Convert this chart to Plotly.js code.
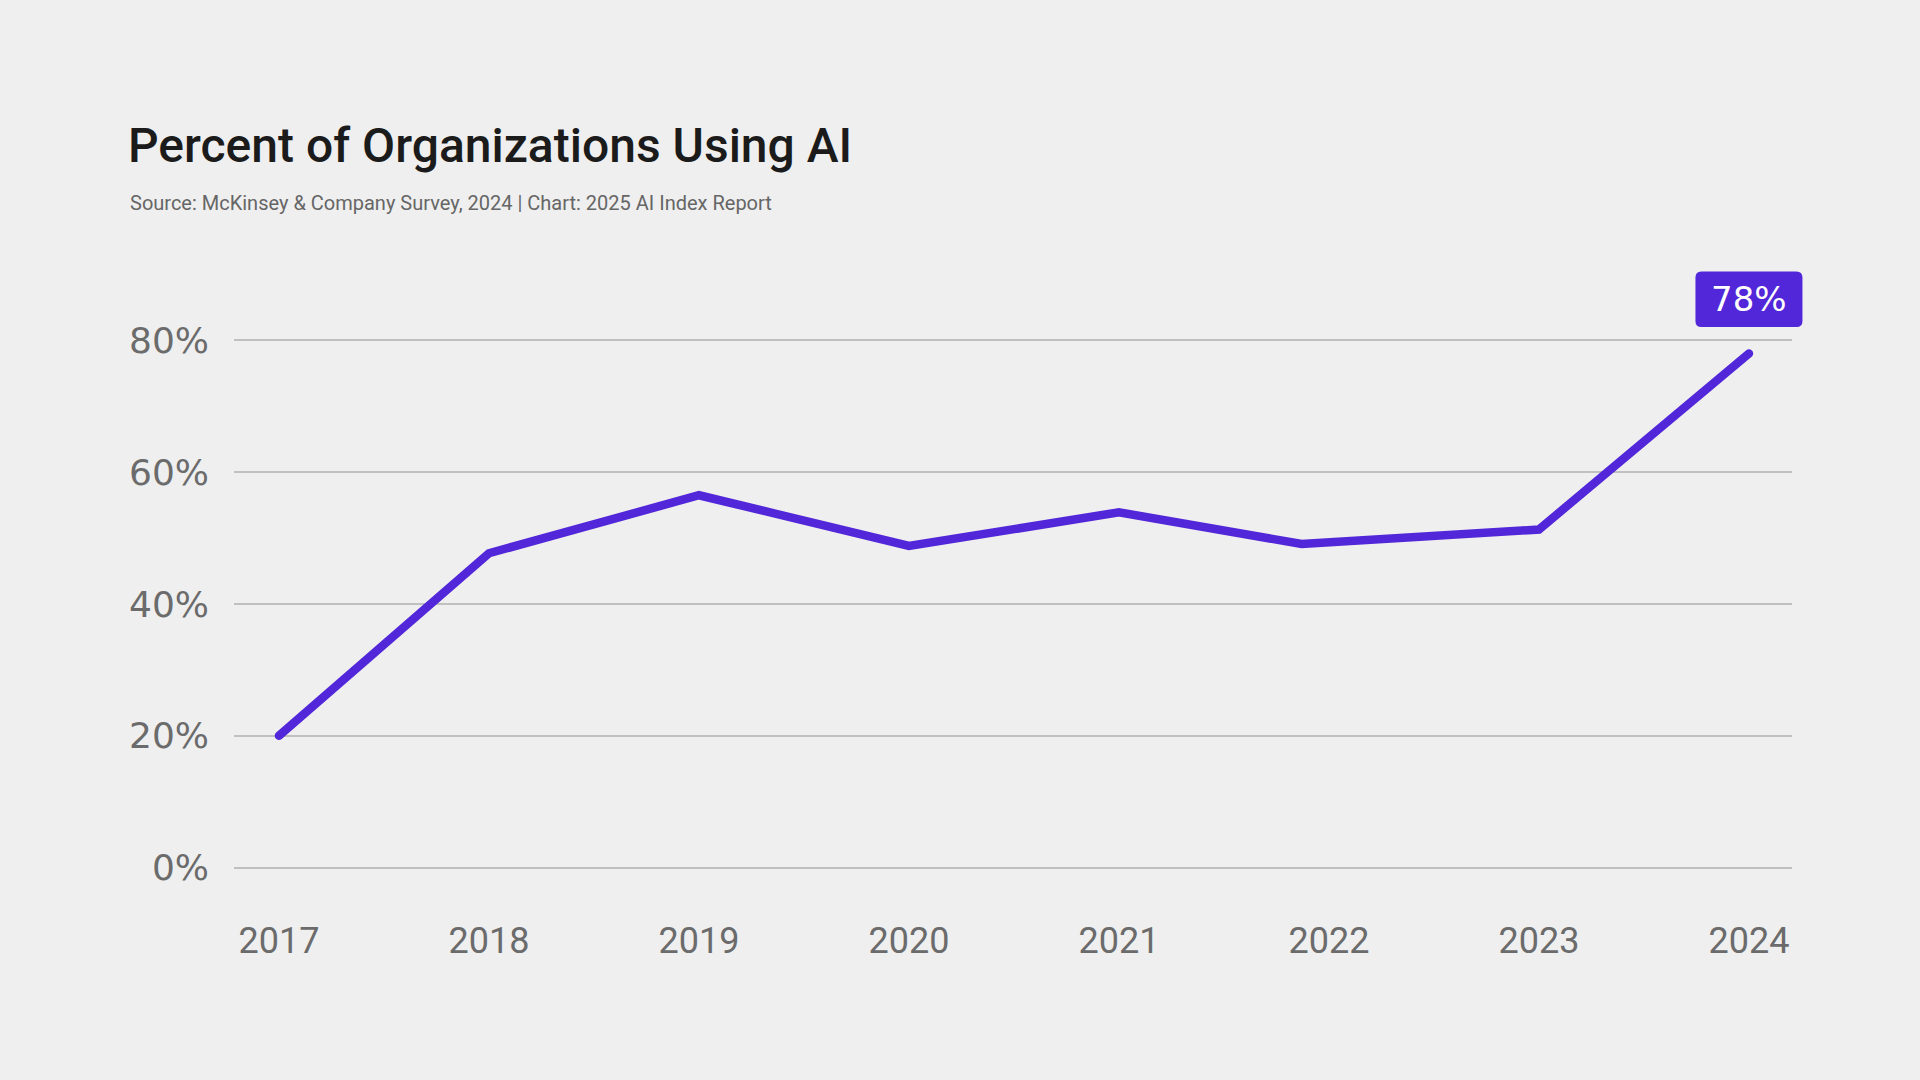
<!DOCTYPE html>
<html>
<head>
<meta charset="utf-8">
<script src="https://cdn.plot.ly/plotly-3.0.1.min.js"></script>
<style>
  html, body { margin: 0; padding: 0; background: #efefef; }
  #chart { width: 1920px; height: 1080px; }
  .scatterlayer path.js-line { stroke-linecap: round; }
</style>
</head>
<body>
<div id="chart"></div>
<script>
// Survey years shown on the axis
const yearLabels = ['2017', '2018', '2019', '2020', '2021', '2022', '2023', '2024'];
const yearTicks = [2017, 2018, 2019, 2020, 2021, 2022, 2023, 2024];
// When each survey wave sits on the time axis
const surveyTime = [2017, 2018, 2019, 2020, 2021, 2021.87, 2023, 2024];
// Share of organizations reporting AI use (%)
const pctUsingAI = [20, 47.7, 56.5, 48.8, 53.9, 49.1, 51.3, 78];
const pctTicks = [0, 20, 40, 60, 80];
const pctTickText = pctTicks.map(v => v + '%');

const purple = '#5227d9';
const grey = '#6b6b6b';
const last = pctUsingAI.length - 1;

const xRange = [2016.786, 2024.205];
const yRange = [-4, 84];

// paper-space anchor of the latest value, for the badge behind its label
const badgeX = (surveyTime[last] - xRange[0]) / (xRange[1] - xRange[0]);
const badgeY = (pctUsingAI[last] - yRange[0]) / (yRange[1] - yRange[0]);

const trace = {
  type: 'scatter',
  mode: 'lines',
  x: surveyTime,
  y: pctUsingAI,
  line: { color: purple, width: 8.5 },
  hoverinfo: 'skip',
  cliponaxis: false
};

const layout = {
  width: 1920,
  height: 1080,
  paper_bgcolor: '#efefef',
  plot_bgcolor: '#efefef',
  showlegend: false,
  margin: { l: 234, r: 128, t: 313.6, b: 185.6, pad: 0 },
  title: {
    text: 'Percent of Organizations Using AI',
    font: { family: 'Roboto, sans-serif', size: 48, weight: 500, color: '#1b1b1b' },
    xref: 'container', x: 128 / 1920, xanchor: 'left',
    yref: 'container', y: 1 - 128 / 1080, yanchor: 'top'
  },
  xaxis: {
    range: xRange,
    tickmode: 'array',
    tickvals: yearTicks,
    ticktext: yearLabels,
    showgrid: false,
    zeroline: false,
    showline: false,
    ticks: '',
    ticklabelstandoff: 22,
    tickfont: { family: 'Roboto, sans-serif', size: 36, color: grey },
    fixedrange: true
  },
  yaxis: {
    range: yRange,
    tickmode: 'array',
    tickvals: pctTicks,
    ticktext: pctTickText,
    showgrid: true,
    gridcolor: '#c0c0c0',
    gridwidth: 2,
    zeroline: false,
    showline: false,
    ticks: '',
    ticklabelstandoff: 24,
    tickfont: { family: 'DejaVu Sans, sans-serif', size: 36, color: grey },
    fixedrange: true
  },
  shapes: [
    {
      // rounded badge behind the final value
      type: 'path',
      xref: 'paper', yref: 'paper',
      xsizemode: 'pixel', ysizemode: 'pixel',
      xanchor: badgeX, yanchor: badgeY,
      path: 'M -47.5,26.5 L 47.5,26.5 Q 53.5,26.5 53.5,32.5 L 53.5,76 Q 53.5,82 47.5,82 L -47.5,82 Q -53.5,82 -53.5,76 L -53.5,32.5 Q -53.5,26.5 -47.5,26.5 Z',
      fillcolor: purple,
      line: { width: 0 },
      layer: 'above'
    }
  ],
  annotations: [
    {
      text: 'Source: McKinsey & Company Survey, 2024 | Chart: 2025 AI Index Report',
      xref: 'paper', yref: 'paper',
      x: (128 - 234) / 1558, xanchor: 'left',
      y: (894.4 - 202) / 580.8, yanchor: 'middle',
      showarrow: false,
      font: { family: 'Roboto, sans-serif', size: 20, color: '#666666' }
    },
    {
      text: pctUsingAI[last] + '%',
      x: surveyTime[last], y: pctUsingAI[last],
      xref: 'x', yref: 'y',
      xanchor: 'center', yanchor: 'middle',
      yshift: 54.3,
      showarrow: false,
      font: { family: 'DejaVu Sans, sans-serif', size: 34, color: '#ffffff' }
    }
  ]
};

Plotly.newPlot('chart', [trace], layout, { displayModeBar: false, staticPlot: true });
</script>
</body>
</html>
